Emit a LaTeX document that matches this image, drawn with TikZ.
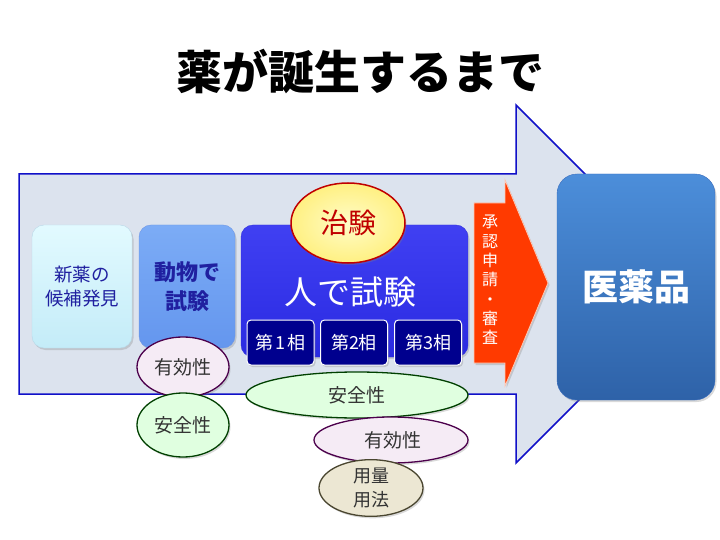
\documentclass[tikz,border=0pt]{standalone}
\usepackage{fontspec}
\setmainfont{Noto Sans CJK JP}
\usetikzlibrary{shadows,shapes.geometric}
\definecolor{bgfill}{HTML}{DCE3EE}
\definecolor{bgline}{HTML}{1010C8}
\definecolor{txtblue}{HTML}{2020A0}
\definecolor{navy}{HTML}{00008E}
\definecolor{redtxt}{HTML}{C00000}
\definecolor{ell}{HTML}{333333}
\definecolor{dosefill}{HTML}{ECE7D3}
\definecolor{doseline}{HTML}{4A4630}
\tikzset{
  sh/.style={drop shadow={shadow xshift=1.5pt,shadow yshift=-2pt,opacity=0.3}},
  stagebox/.style={rounded corners=12pt, sh, inner sep=0pt},
  phasebox/.style={draw=white, line width=1pt, fill=navy, rounded corners=4pt, minimum width=67pt, minimum height=45pt, text=white, font=\fontsize{18}{20}\selectfont, sh},
  effell/.style={ellipse, draw=violet!60!black, line width=1.3pt, fill=violet!8, text=ell, font=\fontsize{19}{21}\selectfont, inner sep=0pt, sh},
  safell/.style={ellipse, draw=green!25!black, line width=1.3pt, fill=green!12, text=ell, font=\fontsize{19}{21}\selectfont, inner sep=0pt, sh},
  doseell/.style={ellipse, draw=doseline, line width=1.3pt, fill=dosefill, text=ell, font=\fontsize{18}{24}\selectfont, inner sep=0pt, sh}
}
\begin{document}
\begin{tikzpicture}[x=1pt,y=-1pt]
\useasboundingbox (0,0) rectangle (720,540);
% title
\node (title) at (360,72) {\fontsize{46}{50}\selectfont\bfseries 薬が誕生するまで};
% big arrow
\draw[bgline, line width=1.5pt, fill=bgfill] (19,174) -- (516,174) -- (516,105) -- (695,284) -- (516,463) -- (516,394) -- (19,394) -- cycle;
% stage boxes
\node[stagebox, draw={rgb,255:red,184;green,216;blue,232}, top color={rgb,255:red,226;green,250;blue,255}, bottom color={rgb,255:red,196;green,236;blue,248}, minimum width=100pt, minimum height=123pt, text=txtblue, align=center, font=\fontsize{18.5}{24}\selectfont] (cand) at (82,286.5) {新薬の\\候補発見};
\node[stagebox, draw={rgb,255:red,110;green,150;blue,230}, top color={rgb,255:red,124;green,172;blue,246}, bottom color={rgb,255:red,100;green,150;blue,238}, minimum width=96pt, minimum height=123pt, text=txtblue, align=center, font=\fontsize{22}{29}\selectfont\bfseries] (animal) at (187,286.5) {動物で\\試験};
\node[stagebox, draw={rgb,255:red,50;green,50;blue,220}, top color={rgb,255:red,64;green,64;blue,242}, bottom color={rgb,255:red,42;green,42;blue,226}, minimum width=227pt, minimum height=132pt] (human) at (354.5,291) {};
\node[text=white, font=\fontsize{33}{36}\selectfont] (humantxt) at (350,292) {人で試験};
% trial ellipse
\node[ellipse, draw=redtxt, line width=1.5pt, inner color={rgb,255:red,255;green,252;blue,200}, outer color={rgb,255:red,255;green,240;blue,130}, minimum width=114pt, minimum height=80pt, text=redtxt, font=\fontsize{28}{30}\selectfont, inner sep=0pt, sh] (chiken) at (348,223) {治験};
% phases
\node[phasebox] (p1) at (280.5,342.5) {第\hspace{2.5pt}1\hspace{1.5pt}相};
\node[phasebox] (p2) at (354,342.5) {第2相};
\node[phasebox] (p3) at (428,342.5) {第3相};
% approval arrow
\path[fill={rgb,255:red,255;green,58;blue,0}, draw={rgb,255:red,255;green,200;blue,180}, line width=0.8pt, sh] (474,203) -- (505,203) -- (505,180) -- (548,283) -- (505,386) -- (505,363) -- (474,363) -- cycle;
\node[text=white, align=center, font=\fontsize{16}{19.3}\selectfont] (appr) at (490,280) {承\\認\\申\\請\\・\\審\\査};
% medicine box
\node[rounded corners=20pt, draw={rgb,255:red,60;green,110;blue,190}, top color={rgb,255:red,76;green,142;blue,218}, bottom color={rgb,255:red,46;green,98;blue,168}, minimum width=158pt, minimum height=226pt, text=white, font=\fontsize{36}{38}\selectfont\bfseries, sh] (med) at (636,287) {医薬品};
% ellipses
\node[effell, minimum width=92pt, minimum height=60pt] (eff1) at (183,367) {有効性};
\node[safell, minimum width=92pt, minimum height=64pt] (saf1) at (183,425) {安全性};
\node[safell, minimum width=222pt, minimum height=46pt] (saf2) at (357,395) {安全性};
\node[effell, minimum width=154pt, minimum height=46pt] (eff2) at (391,440) {\hspace*{4pt}有効性};
\node[doseell, minimum width=104pt, minimum height=50pt, align=center] (dose) at (371,488) {用量\\用法};
\end{tikzpicture}
\end{document}
